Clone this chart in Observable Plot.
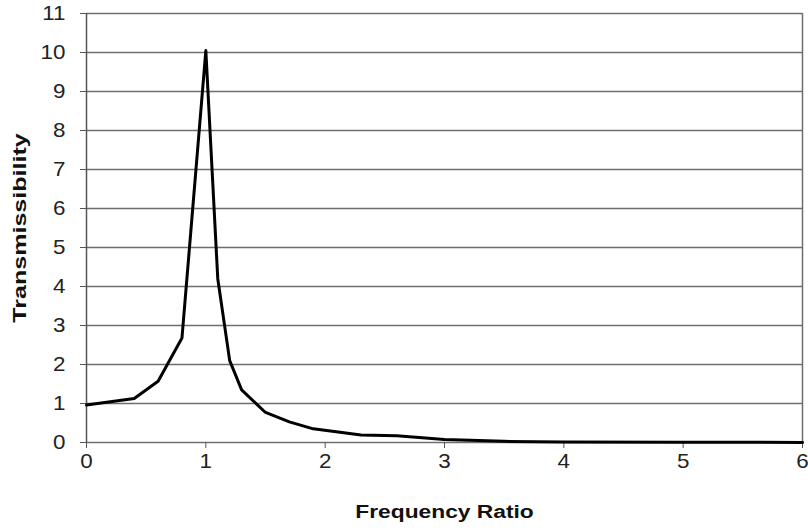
<!DOCTYPE html>
<html>
<head>
<meta charset="utf-8">
<script src="https://cdn.jsdelivr.net/npm/d3@7"></script>
<script src="https://cdn.jsdelivr.net/npm/@observablehq/plot@0.6"></script>
<style>
  html, body { margin: 0; padding: 0; background: #fff; }
  #chart { width: 808px; height: 530px; }
</style>
</head>
<body>
<div id="chart"></div>
<script>
// Frequency ratio (x) and transmissibility (y)
const freqRatio = [0, 0.4, 0.6, 0.8, 1.0, 1.1, 1.2, 1.3, 1.5, 1.7, 1.9, 2.3, 2.6, 3.0, 3.5, 4.0, 5.0, 6.0];
const transmissibility = [0.96, 1.13, 1.57, 2.68, 10.05, 4.2, 2.1, 1.35, 0.77, 0.53, 0.35, 0.19, 0.17, 0.08, 0.03, 0.01, 0.005, 0.003];
const xTicks = [0, 1, 2, 3, 4, 5, 6];
const yTicks = [0, 1, 2, 3, 4, 5, 6, 7, 8, 9, 10, 11];
const xLabel = "Frequency Ratio";
const yLabel = "Transmissibility";

const rows = freqRatio.map((f, i) => ({f, t: transmissibility[i]}));

const plot = Plot.plot({
  width: 808,
  height: 530,
  marginLeft: 86,
  marginRight: 6,
  marginTop: 13,
  marginBottom: 88,
  style: {fontFamily: "'Liberation Sans', Arial, sans-serif", fontSize: "20px", color: "#222", background: "#fff"},
  x: {domain: [0, 6]},
  y: {domain: [0, 11]},
  marks: [
    Plot.ruleY(yTicks, {stroke: "#6e6e6e", strokeWidth: 1.5}),
    Plot.ruleX([6], {stroke: "#6e6e6e", strokeWidth: 1.5}),
    Plot.ruleX([0], {stroke: "#555", strokeWidth: 1.5}),
    Plot.axisY({ticks: yTicks, tickSize: 6, tickPadding: 15, label: null, tickFormat: d => String(d), stroke: "#555", fontSize: 20, fill: "#222"}),
    Plot.axisX({ticks: xTicks, tickSize: 6, tickPadding: 5, label: null, tickFormat: d => String(d), stroke: "#555", fontSize: 20, fill: "#222"}),
    Plot.line(rows, {x: "f", y: "t", stroke: "#000", strokeWidth: 3, strokeLinejoin: "round"}),
    Plot.text([yLabel], {text: d => d, frameAnchor: "left", textAnchor: "middle", dx: -67, rotate: -90, fontSize: 19, fontWeight: "bold", fill: "#111"}),
    Plot.text([xLabel], {text: d => d, frameAnchor: "bottom", textAnchor: "middle", dy: 75, fontSize: 19, fontWeight: "bold", fill: "#111"})
  ]
});

document.getElementById("chart").appendChild(plot);

// widen texts along their reading direction, as in the reference
const tickSet = new Set([...xTicks, ...yTicks].map(String));
d3.select(plot).selectAll("text").each(function() {
  const t = this.textContent;
  const el = d3.select(this);
  const tr = el.attr("transform") || "";
  if (t === yLabel) el.attr("transform", tr + " scale(1.32,1)");
  else if (t === xLabel) el.attr("transform", tr + " scale(1.2,1)");
  else if (tickSet.has(t)) el.attr("transform", tr + " scale(1.12,1)");
});
</script>
</body>
</html>
